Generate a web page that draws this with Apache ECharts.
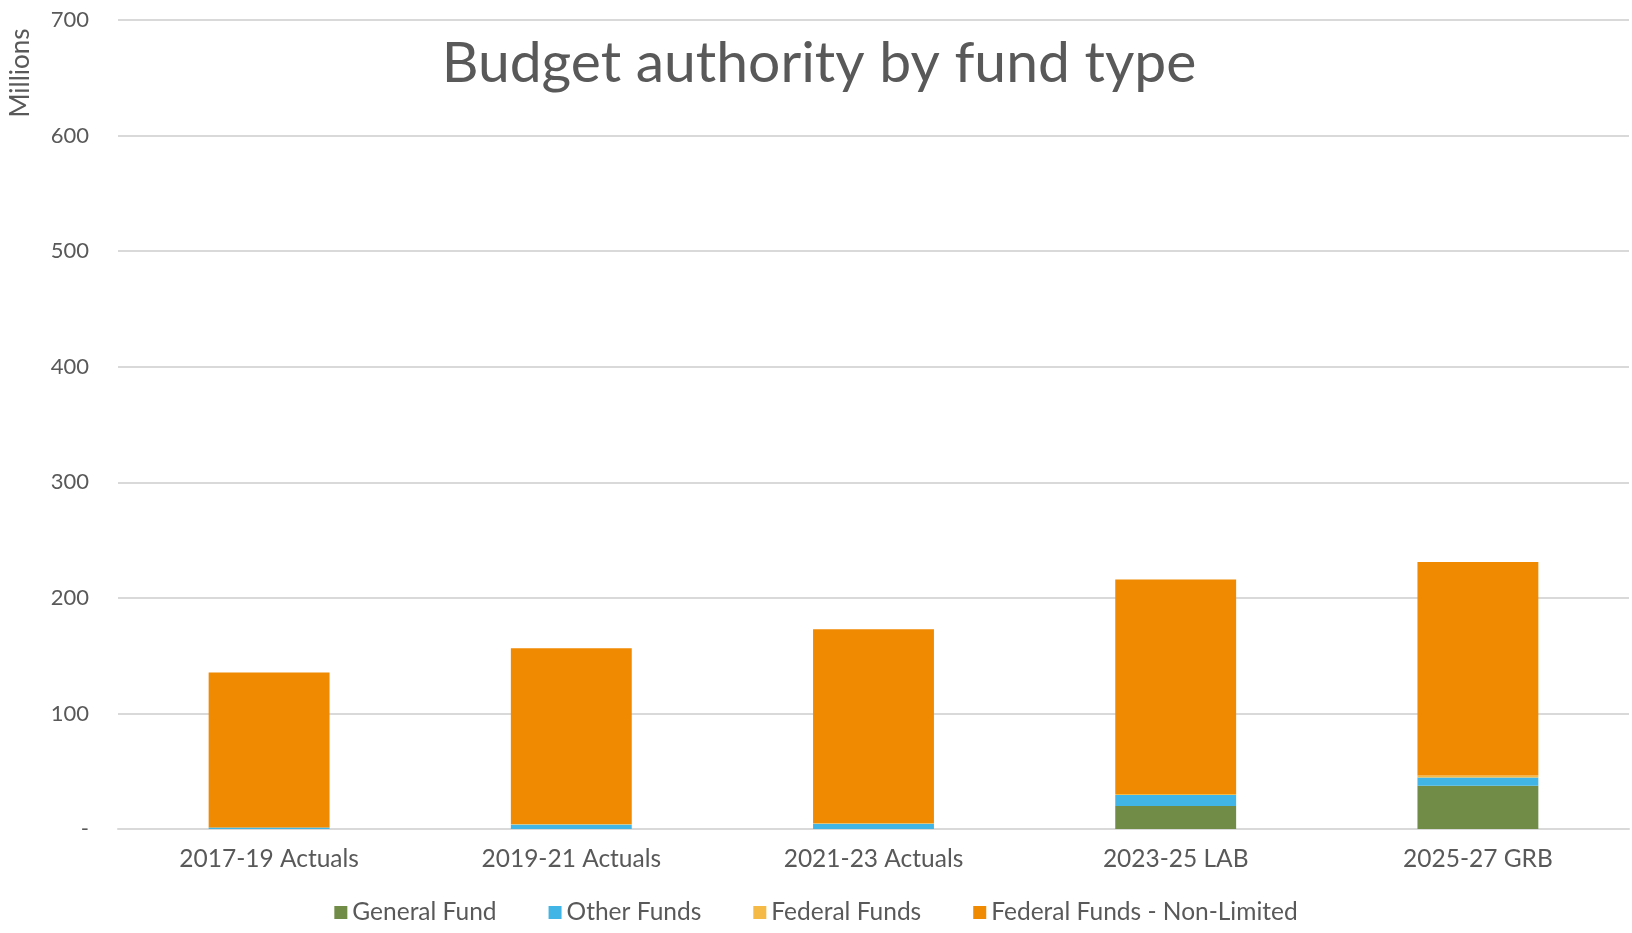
<!DOCTYPE html>
<html><head><meta charset="utf-8">
<script src="https://cdn.jsdelivr.net/npm/echarts@6/dist/echarts.min.js"></script>
<style>html,body{margin:0;padding:0;background:#fff}#c{width:1632px;height:933px}</style>
</head><body><div id="c"></div>
<script>
const categories = ['2017-19 Actuals','2019-21 Actuals','2021-23 Actuals','2023-25 LAB','2025-27 GRB'];
const generalFund = [0, 0, 0, 20, 37.5];
const otherFunds = [1.2, 4, 4.5, 9.5, 7];
const federalFunds = [0.2, 0.3, 0.4, 0.8, 1.7];
const federalNonLimited = [134, 152, 168, 185.5, 184.8];
const seriesNames = ['General Fund','Other Funds','Federal Funds','Federal Funds - Non-Limited'];
const colors = ['#718C47','#41B6E6','#F5BA45','#F08A00'];
const font = 'Lato, "Noto Sans", sans-serif';
const chart = echarts.init(document.getElementById('c'));
const data = [generalFund, otherFunds, federalFunds, federalNonLimited];
chart.setOption({
  animation:false,
  color: colors,
  title:{text:'Budget authority by fund type', left:814, top:30, textAlign:'center',
    textStyle:{fontFamily:font, fontSize:57, fontWeight:'normal', color:'#595959'}},
  graphic:[{type:'text', x:21, y:73, rotation:Math.PI/2,
    style:{text:'Millions', fontFamily:font, fontSize:26, fill:'#595959', align:'center', verticalAlign:'middle'}}],
  legend:{bottom:3, left:'center', itemWidth:13, itemHeight:13, itemGap:52, icon:'rect',
    textStyle:{fontFamily:font, fontSize:24.5, color:'#595959'}},
  grid:{left:118, right:3, top:20, bottom:104},
  xAxis:{type:'category', data:categories,
    axisLine:{lineStyle:{color:'#D9D9D9', width:2}}, axisTick:{show:false},
    axisLabel:{fontFamily:font, fontSize:24.5, color:'#595959', margin:18}},
  yAxis:{type:'value', min:0, max:700, interval:100,
    axisLabel:{fontFamily:font, fontSize:22, color:'#595959', margin:29,
      formatter:v=>v===0?'-':String(v)},
    splitLine:{lineStyle:{color:'#D9D9D9', width:2}}},
  series: seriesNames.map((n,i)=>({name:n, type:'bar', stack:'a', data:data[i], barWidth:'40%'}))
});
</script></body></html>
